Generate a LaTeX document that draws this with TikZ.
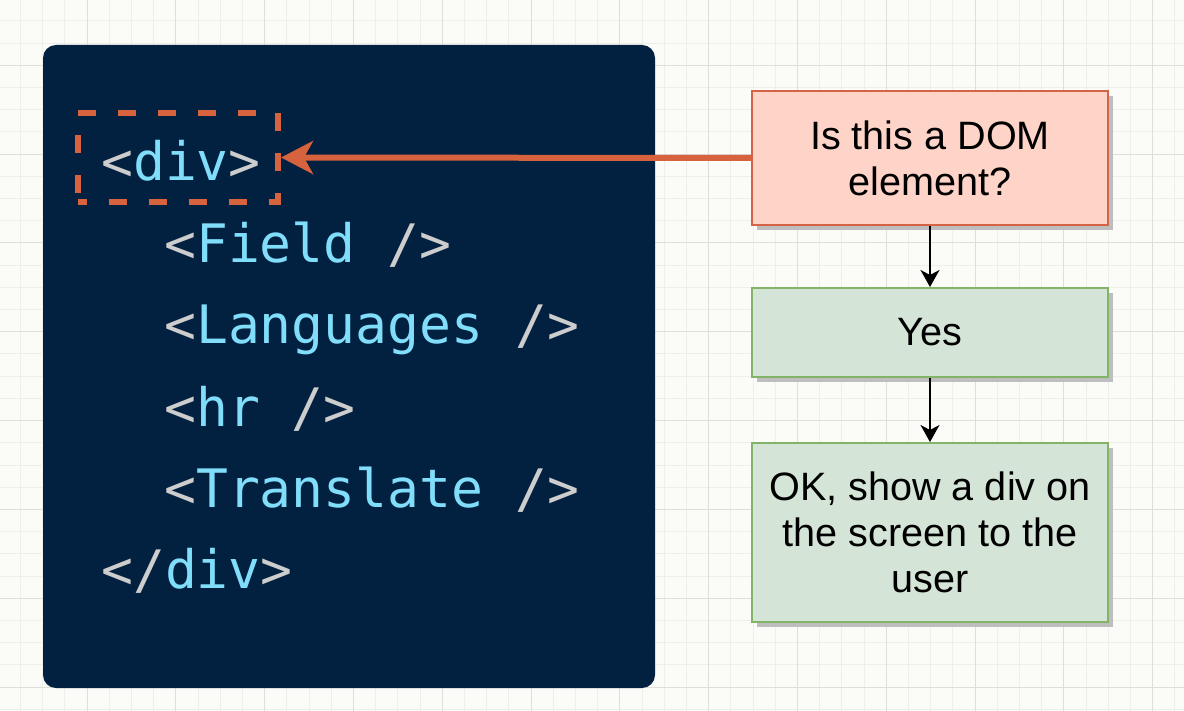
\documentclass[tikz,border=0pt]{standalone}
\usepackage{fontspec}
\setmainfont{Liberation Sans}
\newfontfamily\codefont{DejaVu Sans Mono}
\usepackage{xcolor}
\usepackage{tikz}
\usetikzlibrary{arrows.meta, positioning, shadows}

\definecolor{paper}{RGB}{251,251,248}
\definecolor{gridminor}{RGB}{238,238,234}
\definecolor{gridmajor}{RGB}{222,222,219}
\definecolor{codebg}{RGB}{2,32,64}
\definecolor{tagc}{RGB}{205,205,205}
\definecolor{namec}{RGB}{128,222,250}
\definecolor{rust}{RGB}{214,98,62}
\definecolor{pinkfill}{RGB}{255,212,200}
\definecolor{pinkline}{RGB}{212,100,70}
\definecolor{greenfill}{RGB}{212,229,215}
\definecolor{greenline}{RGB}{130,179,102}
\definecolor{shade}{RGB}{190,190,190}

\newcommand{\tagtxt}[1]{\textcolor{tagc}{#1}}
\newcommand{\nametxt}[1]{\textcolor{namec}{#1}}

\tikzset{
  codeline/.style={anchor=base west, inner sep=0pt,
    font=\codefont\fontsize{53}{60}\selectfont},
  flowbox/.style={draw, line width=2pt, minimum width=356pt,
    align=center, font=\fontsize{39.6}{46}\selectfont,
    drop shadow={shadow xshift=5pt, shadow yshift=-5pt, fill=shade, opacity=1}},
  askbox/.style={flowbox, fill=pinkfill, draw=pinkline},
  okbox/.style={flowbox, fill=greenfill, draw=greenline},
  flowarrow/.style={line width=1.5pt, -{Stealth[length=17pt, width=19pt, inset=5pt]}}
}

\begin{document}
\begin{tikzpicture}[x=1pt, y=-1pt]

  \useasboundingbox (0,0) rectangle (1184,711);
  \fill[paper] (0,0) rectangle (1184,711);

  % grid
  \foreach \i in {0,...,54}
    \draw[gridminor, line width=1pt] (\i*22.2-1.8, 0) -- (\i*22.2-1.8, 711);
  \foreach \i in {1,...,32}
    \draw[gridminor, line width=1pt] (0, \i*22.2-1.2) -- (1184, \i*22.2-1.2);
  \foreach \i in {1,...,13}
    \draw[gridmajor, line width=1pt] (\i*88.8-1.8, 0) -- (\i*88.8-1.8, 711);
  \foreach \i in {0,...,7}
    \draw[gridmajor, line width=1pt] (0, 65.4+\i*88.8) -- (1184, 65.4+\i*88.8);

  % code panel
  \fill[codebg, rounded corners=13pt] (43,45) rectangle (655,688);

  \node[codeline] (opendiv)   at (101,181) {\tagtxt{<}\nametxt{div}\tagtxt{>}};
  \node[codeline] (field)     at (164,263) {\tagtxt{<}\nametxt{Field} \tagtxt{/>}};
  \node[codeline] (languages) at (164,344) {\tagtxt{<}\nametxt{Languages} \tagtxt{/>}};
  \node[codeline] (hr)        at (164,426) {\tagtxt{<}\nametxt{hr} \tagtxt{/>}};
  \node[codeline] (translate) at (164,507) {\tagtxt{<}\nametxt{Translate} \tagtxt{/>}};
  \node[codeline] (closediv)  at (101,588) {\tagtxt{</}\nametxt{div}\tagtxt{>}};

  \node[draw=rust, line width=6pt, dash pattern=on 18pt off 22pt, dash phase=9pt,
        minimum width=200pt, minimum height=89pt, inner sep=0pt]
        (divbox) at (178,157.5) {};

  % flow on the right
  \node[askbox, minimum height=134pt] (question) at (930,158)
        {Is this a DOM\\element?};
  \node[okbox, minimum height=89pt, below=61pt of question] (yes) {Yes};
  \node[okbox, minimum height=179pt, below=64pt of yes] (show)
        {OK, show a div on\\the screen to the\\user};

  \draw[rust, line width=6pt, -{Stealth[length=32pt, width=33pt, inset=9pt]}]
    (question.west) -- (divbox.east);
  \draw[flowarrow] (question) -- (yes);
  \draw[flowarrow] (yes) -- (show);

\end{tikzpicture}
\end{document}
